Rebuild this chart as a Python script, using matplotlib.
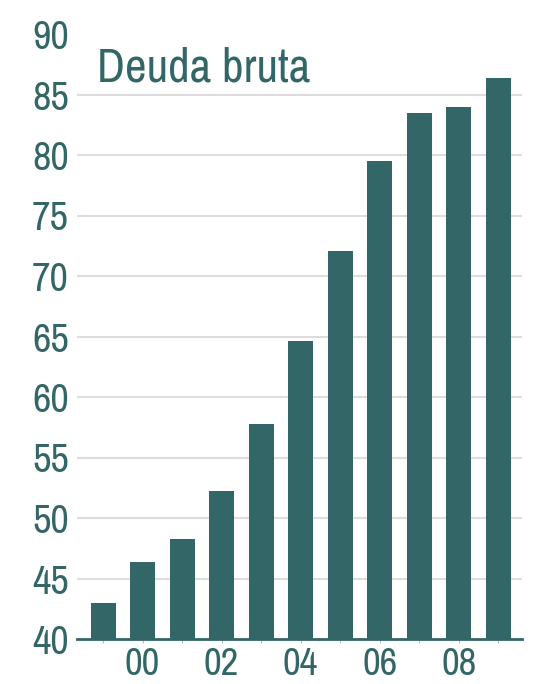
import matplotlib
matplotlib.use("Agg")
import matplotlib.pyplot as plt
from matplotlib import font_manager

# gross debt, % of GDP
years = [1999, 2000, 2001, 2002, 2003, 2004, 2005, 2006, 2007, 2008, 2009]
deuda = [43.0, 46.4, 48.3, 52.2, 57.8, 64.6, 72.1, 79.5, 83.5, 84.0, 86.4]
yticks = [40, 45, 50, 55, 60, 65, 70, 75, 80, 85, 90]
xlabels = {2000: "00", 2002: "02", 2004: "04", 2006: "06", 2008: "08"}

TEAL = "#336666"
names = {f.name for f in font_manager.fontManager.ttflist}
narrow = [n for n in ("Arial Narrow", "Liberation Sans Narrow", "Archivo Narrow",
                      "Roboto Condensed", "PT Sans Narrow", "Pragati Narrow",
                      "Open Sans Condensed") if n in names]
plt.rcParams["font.family"] = narrow[:1] + ["DejaVu Sans"]

fig = plt.figure(figsize=(5.36, 6.84), dpi=100)
ax = fig.add_axes([77 / 536, 45 / 684, 445 / 536, 605 / 684])

ax.bar(years, deuda, width=0.63, color=TEAL, zorder=3)

ax.set_ylim(40, 90)
ax.set_xlim(1998.34, 2009.6)
ax.set_yticks(yticks)
ax.set_yticklabels([str(v) for v in yticks])
for v in yticks[1:-1]:
    ax.axhline(v, color="#dddddd", lw=1.5, zorder=1)

ax.set_xticks(years)
ax.set_xticklabels([xlabels.get(y, "") for y in years])
ax.tick_params(axis="x", length=3, width=0.8, color="#bbbbbb", pad=3,
               labelsize=28, labelcolor=TEAL)
ax.tick_params(axis="y", length=0, pad=6, labelsize=29, labelcolor=TEAL)

for s in ("top", "right", "left"):
    ax.spines[s].set_visible(False)
ax.spines["bottom"].set_color(TEAL)
ax.spines["bottom"].set_linewidth(2)
ax.spines["bottom"].set_zorder(4)

ax.text(0.045, 0.922, "Deuda bruta", transform=ax.transAxes,
        fontsize=34, color=TEAL, ha="left", va="baseline")

fig.savefig("out.png", dpi=100)
